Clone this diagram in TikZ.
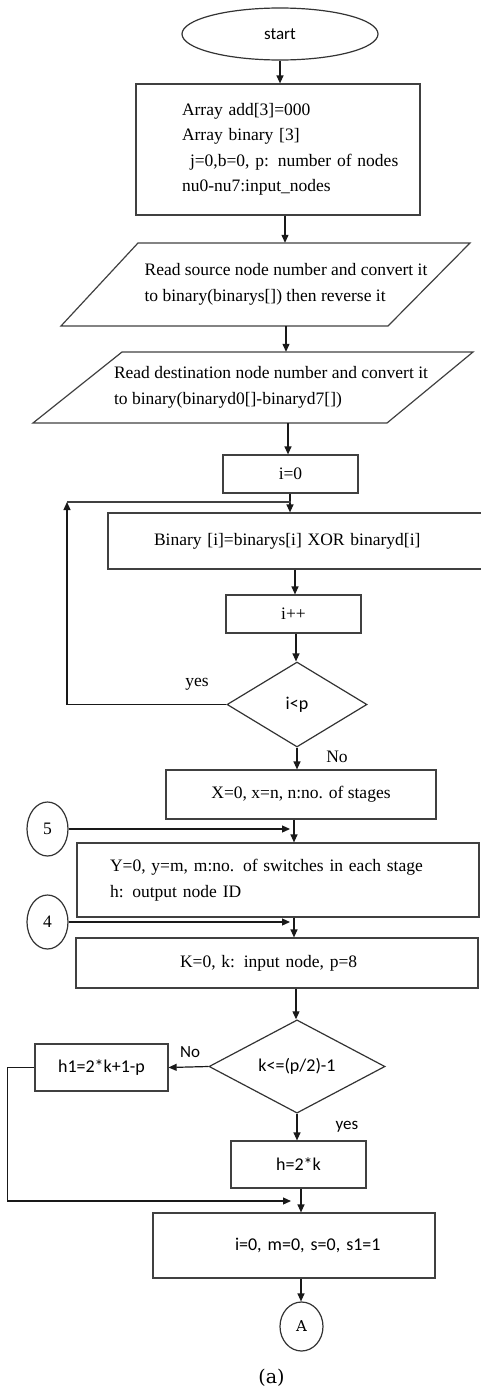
\documentclass[tikz,border=0pt]{standalone}
\usepackage{fontspec}
\setmainfont{Liberation Serif}
\newfontfamily\calib{Carlito}
\newfontfamily\slab{DejaVu Serif}
\usetikzlibrary{arrows.meta,
                shapes.geometric}

\tikzset{
  box/.style={draw=black!75, line width=1.2pt, rectangle, inner sep=2pt,
              font=\fontsize{17.5}{25.5}\selectfont},
  lbox/.style={box, align=left},
  cbox/.style={box, align=center},
  sbox/.style={box, font=\calib\fontsize{18}{22}\selectfont},
  cond/.style={draw=black!80, line width=1.2pt, diamond, inner sep=0pt,
               font=\calib\fontsize{18}{22}\selectfont},
  conn/.style={draw=black!80, line width=1.2pt, ellipse, inner sep=0pt,
               font=\fontsize{17.5}{20}\selectfont},
  io/.style={align=left, inner sep=0pt, font=\fontsize{17.5}{25.5}\selectfont},
  lab/.style={inner sep=1pt, font=\fontsize{17.5}{20}\selectfont},
  arr/.style={-{Triangle[length=8pt,width=7pt]}, line width=1.2pt, black!90},
  wire/.style={line width=1.2pt, black!75}
}

\begin{document}
\begin{tikzpicture}[x=1pt, y=-1pt]
    \useasboundingbox (0,0) rectangle (480,1392);

    % setup
    \node[conn, minimum width=196pt, minimum height=52pt,
          font=\calib\fontsize{17}{20}\selectfont] (start) at (280,34) {start};
    \node[lbox, minimum width=284pt, minimum height=131pt, text width=192pt, inner xsep=46pt]
        (init) at (278,149.5) {Array add[3]=000\\ Array binary [3]\\
        \mbox{\hspace*{8pt}j=0,b=0, p: number of nodes}\\ nu0-nu7:input\_nodes};

    % input parallelograms
    \node[io, minimum height=83pt] (src) at (286,284.5)
        {Read source node number and convert it\\ to binary(binarys[]) then reverse it};
    \draw[wire] (138,243) -- (470,243) -- (388,326) -- (61,326) -- cycle;
    \node[io, minimum height=71pt] (dst) at (271,387.5)
        {Read destination node number and convert it\\ to binary(binaryd0[]-binaryd7[])};
    \draw[wire] (122,352) -- (473,352) -- (387,423) -- (33,423) -- cycle;

    % xor loop
    \node[cbox, minimum width=135pt, minimum height=38pt] (ivar) at (290.5,474) {i=0};
    \node[lbox, minimum width=384pt, minimum height=56pt, text width=292pt, inner xsep=46pt]
        (body) at (300,541) {Binary [i]=binarys[i] XOR binaryd[i]};
    \node[cbox, minimum width=135pt, minimum height=38pt] (inc) at (293.5,614) {i++};
    \node[cond, minimum width=140pt, minimum height=85pt] (cond1) at (297,704.5) {i<p};
    \node[lab] (yes1) at (197,684) {yes};
    \node[lab] (no1) at (337,757) {No};

    % stages and switches
    \node[cbox, minimum width=270pt, minimum height=49pt] (xbox) at (301,794.5)
        {X=0, x=n, n:no. of stages};
    \node[conn, minimum width=41pt, minimum height=54pt] (c5) at (47.5,829) {5};
    \node[lbox, minimum width=402pt, minimum height=74pt, text width=336pt, inner xsep=33pt]
        (ybox) at (278,880) {Y=0, y=m, m:no. of switches in each stage\\ h: output node ID};
    \node[conn, minimum width=41pt, minimum height=54pt] (c4) at (47.5,922) {4};
    \node[lbox, minimum width=402pt, minimum height=50pt, text width=194pt, inner xsep=104pt]
        (kbox) at (277,963) {K=0, k: input node, p=8};

    % output node id
    \node[cond, minimum width=176pt, minimum height=88pt] (cond2) at (297,1066.5) {k<=(p/2)-1};
    \node[sbox, minimum width=133pt, minimum height=47pt] (h1) at (101.5,1067.5) {h1=2*k+1-p};
    \node[sbox, minimum width=135pt, minimum height=47pt] (hbox) at (298.5,1164.5) {h=2*k};
    \node[lab, font=\calib\fontsize{17}{20}\selectfont] (no2) at (190,1052) {No};
    \node[lab, font=\calib\fontsize{17}{20}\selectfont] (yes2) at (347,1127) {yes};
    \node[sbox, align=left, minimum width=282pt, minimum height=65pt, text width=118pt, inner xsep=82pt]
        (final) at (294,1245.5) {\mbox{i=0, m=0, s=0, s1=1}};
    \node[conn, minimum width=43pt, minimum height=49pt,
          font=\slab\fontsize{15}{18}\selectfont] (conA) at (301.5,1326.5) {A};
    \node[font=\slab\fontsize{19}{22}\selectfont] (cap) at (271.5,1378) {(a)};

    % main flow
    \foreach \a/\b/\x in {start/init/280, init/src/285, src/dst/286, dst/ivar/288,
                          ivar/body/290, body/inc/295, inc/cond1/296, cond1/xbox/297,
                          xbox/ybox/294, ybox/kbox/294, kbox/cond2/296, cond2/hbox/297,
                          hbox/final/301, final/conA/301}
        \draw[arr] (\x,0 |- \a.south) -- (\x,0 |- \b.north);

    % back edges and side branches
    \coordinate (loop) at (67,502);
    \draw[arr] (cond1.west) -| (loop);
    \draw[wire] (loop) -- (loop -| ivar.south);
    \draw[arr] (c5.east) -- (c5.east -| 290,0);
    \draw[arr] (c4.east) -- (c4.east -| 290,0);
    \draw[arr] (cond2.west) -- (h1.east);
    \draw[arr] (h1.west) -- ++(-27,0) |- (291,1201);
\end{tikzpicture}
\end{document}
